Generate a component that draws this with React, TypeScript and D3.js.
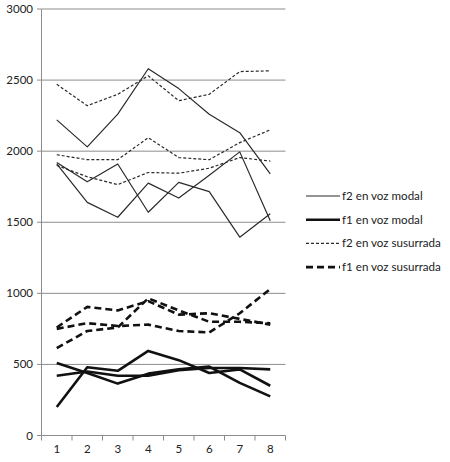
import React from "react";
import * as d3 from "d3";

// measurement points 1..8
const points = ["1", "2", "3", "4", "5", "6", "7", "8"];
const yTicks = [0, 500, 1000, 1500, 2000, 2500, 3000];

// f2 en voz modal (three speakers)
const f2ModalA = [2220, 2030, 2260, 2580, 2440, 2260, 2130, 1840];
const f2ModalB = [1920, 1785, 1910, 1570, 1780, 1715, 1395, 1560];
const f2ModalC = [1910, 1640, 1535, 1775, 1670, 1830, 1995, 1510];

// f1 en voz modal
const f1ModalA = [510, 440, 365, 435, 465, 485, 370, 275];
const f1ModalB = [420, 450, 420, 420, 460, 475, 475, 465];
const f1ModalC = [200, 480, 455, 595, 530, 440, 465, 350];

// f2 en voz susurrada
const f2WhispA = [2470, 2320, 2400, 2530, 2355, 2400, 2560, 2565];
const f2WhispB = [1975, 1940, 1940, 2095, 1955, 1940, 2060, 2150];
const f2WhispC = [1900, 1820, 1765, 1850, 1845, 1880, 1955, 1930];

// f1 en voz susurrada
const f1WhispA = [760, 905, 880, 945, 850, 860, 820, 780];
const f1WhispB = [615, 735, 760, 965, 880, 800, 800, 790];
const f1WhispC = [750, 790, 770, 780, 735, 725, 860, 1030];

const legendLabels = [
  "f2 en voz modal",
  "f1 en voz modal",
  "f2 en voz susurrada",
  "f1 en voz susurrada",
];

const styles = [
  { stroke: "#2a2a2a", width: 1.2, dash: "" },
  { stroke: "#111", width: 2.6, dash: "" },
  { stroke: "#2a2a2a", width: 1.2, dash: "3,2" },
  { stroke: "#111", width: 2.6, dash: "7,4" },
];

const groups = [
  [f2ModalA, f2ModalB, f2ModalC],
  [f1ModalA, f1ModalB, f1ModalC],
  [f2WhispA, f2WhispB, f2WhispC],
  [f1WhispA, f1WhispB, f1WhispC],
];

const W = 450;
const H = 462;
const font = "Lato, 'Open Sans', sans-serif";

export default function App() {
  const x = d3.scaleBand().domain(points).range([41.5, 285.5]);
  const y = d3.scaleLinear().domain([0, 3000]).range([435.5, 9]);

  const line = d3
    .line<number>()
    .x((_, i) => (x(points[i]) as number) + x.bandwidth() / 2)
    .y((d) => y(d));

  const edges = points.map((p) => x(p) as number).concat([x.range()[1]]);

  return (
    <>
      <style>{`body{margin:0}`}</style>
      <svg width={W} height={H} style={{ display: "block", background: "#fff" }}>
        {/* grid + y ticks */}
        {yTicks.map((t) => (
          <g key={t}>
            {t > 0 && (
              <line x1={41.5} x2={285.5} y1={y(t)} y2={y(t)} stroke="#8c8c8c" strokeWidth={1} />
            )}
            <line x1={37} x2={41.5} y1={y(t)} y2={y(t)} stroke="#8c8c8c" />
            <text
              x={33}
              y={y(t)}
              dy="0.35em"
              textAnchor="end"
              fontFamily={font}
              fontSize={11.5}
              fill="#222"
            >
              {t}
            </text>
          </g>
        ))}
        {/* axes */}
        <line x1={41.5} x2={41.5} y1={y(3000)} y2={y(0)} stroke="#8c8c8c" />
        <line x1={41.5} x2={285.5} y1={y(0)} y2={y(0)} stroke="#8c8c8c" />
        {edges.map((e, i) => (
          <line key={i} x1={e} x2={e} y1={y(0)} y2={y(0) + 5} stroke="#8c8c8c" />
        ))}
        {points.map((p) => (
          <text
            key={p}
            x={(x(p) as number) + x.bandwidth() / 2}
            y={y(0) + 17}
            textAnchor="middle"
            fontFamily={font}
            fontSize={11.5}
            fill="#222"
          >
            {p}
          </text>
        ))}
        {/* series */}
        {groups.map((g, gi) =>
          g.map((vals, li) => (
            <path
              key={`${gi}-${li}`}
              d={line(vals) || ""}
              fill="none"
              stroke={styles[gi].stroke}
              strokeWidth={styles[gi].width}
              strokeDasharray={styles[gi].dash}
              strokeLinejoin="round"
            />
          ))
        )}
        {/* legend */}
        {legendLabels.map((lab, i) => {
          const ly = 196 + i * 23.7;
          return (
            <g key={lab}>
              <line
                x1={306}
                x2={340}
                y1={ly}
                y2={ly}
                stroke={styles[i].stroke}
                strokeWidth={styles[i].width}
                strokeDasharray={styles[i].dash}
              />
              <text
                x={342}
                y={ly}
                dy="0.35em"
                fontFamily={font}
                fontSize={11.6}
                fill="#222"
              >
                {lab}
              </text>
            </g>
          );
        })}
      </svg>
    </>
  );
}
